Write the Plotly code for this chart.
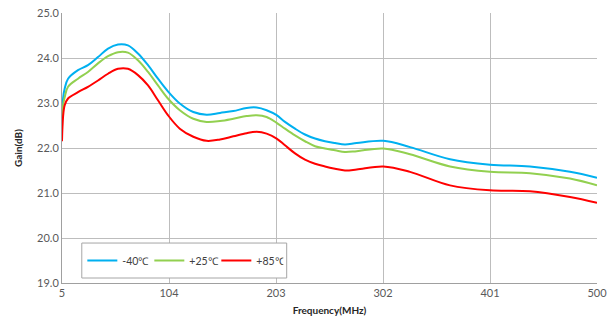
import plotly.graph_objects as go

# Gain vs frequency at three temperatures
freq_mhz = [5, 6, 7.5, 10.6, 19.8, 29, 38.3, 47.6, 56.8, 66, 75.3, 84.6, 93.8, 103,
            114, 126.5, 138.8, 151.2, 163.5, 175.8, 185.1, 194.3, 203.6, 211.3, 220.6,
            229.8, 239.1, 248.3, 257.6, 266.8, 277.7, 302.3, 327, 364, 401, 438, 475, 500]

gain_m40 = [22.45, 23.10, 23.32, 23.54, 23.73, 23.84, 24.02, 24.21, 24.30, 24.28, 24.10,
            23.84, 23.54, 23.26, 22.99, 22.80, 22.74, 22.78, 22.82, 22.89, 22.90, 22.84,
            22.73, 22.58, 22.43, 22.30, 22.21, 22.15, 22.11, 22.08, 22.11, 22.16, 22.02,
            21.75, 21.63, 21.59, 21.47, 21.34]

gain_p25 = [22.40, 22.95, 23.13, 23.36, 23.54, 23.69, 23.88, 24.04, 24.13, 24.12, 23.95,
            23.69, 23.39, 23.10, 22.84, 22.65, 22.58, 22.60, 22.65, 22.71, 22.73, 22.69,
            22.56, 22.43, 22.28, 22.15, 22.04, 21.99, 21.95, 21.91, 21.93, 21.99, 21.86,
            21.59, 21.47, 21.44, 21.32, 21.17]

gain_p85 = [22.15, 22.70, 22.95, 23.10, 23.24, 23.36, 23.50, 23.65, 23.76, 23.76, 23.62,
            23.39, 23.06, 22.73, 22.43, 22.25, 22.16, 22.19, 22.26, 22.33, 22.36, 22.32,
            22.21, 22.06, 21.88, 21.74, 21.65, 21.59, 21.54, 21.50, 21.52, 21.59, 21.47,
            21.17, 21.06, 21.04, 20.91, 20.78]

series = [
    ("-40℃", gain_m40, "#00B0F0"),
    ("+25℃", gain_p25, "#92D050"),
    ("+85℃", gain_p85, "#FF0000"),
]

x_ticks = [5, 104, 203, 302, 401, 500]

fig = go.Figure()
for name, vals, color in series:
    fig.add_trace(go.Scatter(
        x=freq_mhz, y=vals, name=name, mode="lines",
        line=dict(color=color, width=2, shape="spline", smoothing=1.0),
    ))

font_family = "Lato, Liberation Sans, sans-serif"
grid = "#BDBDBD"

# legend frame
fig.add_shape(type="rect", xref="paper", yref="paper",
              x0=0.037, x1=0.42, y0=0.0185, y1=0.148,
              line=dict(color="#A6A6A6", width=1), fillcolor="white", layer="above")

fig.update_layout(
    width=607, height=325,
    margin=dict(l=62, r=10, t=13, b=42, autoexpand=False),
    paper_bgcolor="white", plot_bgcolor="white",
    font=dict(family=font_family, size=11, color="#595959"),
    showlegend=True,
    legend=dict(
        orientation="h", x=0.038, y=0.083, xanchor="left", yanchor="middle",
        borderwidth=0, bgcolor="rgba(0,0,0,0)",
        font=dict(size=10.5, color="#404040"),
        entrywidth=22, itemwidth=30,
    ),
    xaxis=dict(
        range=[5, 500], tickvals=x_ticks, ticktext=[str(v) for v in x_ticks],
        ticklabeloverflow="allow", automargin=False,
        showgrid=True, gridcolor=grid, gridwidth=1,
        showline=True, linecolor="#A0A0A0", linewidth=1, mirror=False,
        zeroline=False, ticks="", ticklen=0,
        title=dict(text="<b>Frequency(MHz)</b>", font=dict(size=10, color="#262626"), standoff=8),
    ),
    yaxis=dict(
        range=[19, 25], dtick=1, tick0=19, tickformat=".1f", automargin=False,
        showgrid=True, gridcolor=grid, gridwidth=1,
        showline=True, linecolor="#A0A0A0", linewidth=1,
        zeroline=False, ticks="", ticklen=0,
        title=dict(text="<b>Gain(dB)</b>", font=dict(size=10, color="#262626"), standoff=12),
    ),
)

fig.write_html("out.html")
